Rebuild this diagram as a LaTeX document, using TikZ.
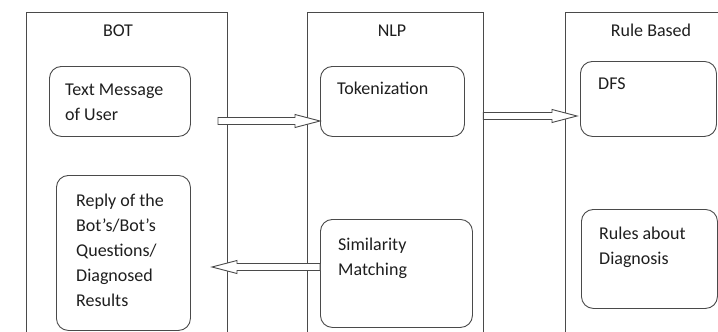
\documentclass[tikz,border=0pt]{standalone}
\usepackage{fontspec}
\setmainfont{Carlito}
\usetikzlibrary{calc}
\definecolor{edge}{HTML}{4A4A4A}
\definecolor{ink}{HTML}{1E1E1E}
\tikzset{
  lane/.style={draw=none, inner sep=0, anchor=north west},
  frame/.style={draw=edge, line width=0.9pt},
  lanetitle/.style={text=ink, inner sep=0, anchor=base, font=\fontsize{18}{25}\selectfont},
  card/.style={draw=edge, line width=0.9pt, rounded corners=12pt, anchor=north west, inner sep=0},
  cardtext/.style={text=ink, inner sep=0, anchor=north west, align=left, font=\fontsize{18}{25.2}\selectfont},
  flow/.style={draw=edge, line width=0.9pt, fill=white, line join=miter},
}
% hollow block arrow from #1 to #2 (both on one horizontal line)
\newcommand\flowarrow[2]{%
  \draw[flow] let \p1=(#1), \p2=(#2), \n1={ifthenelse(\x2>\x1,1,-1)} in
    ({\x1},{\y1+3.5pt}) -- ({\x2-\n1*25pt},{\y1+3.5pt}) -- ({\x2-\n1*25pt},{\y1+6.5pt})
    -- ({\x2},{\y1}) -- ({\x2-\n1*25pt},{\y1-6.5pt}) -- ({\x2-\n1*25pt},{\y1-3.5pt})
    -- ({\x1},{\y1-3.5pt}) -- cycle;}
\begin{document}
\begin{tikzpicture}[x=1pt,y=-1pt]
  \useasboundingbox (0,0) rectangle (718,332);

  % swim lanes (open at the bottom)
  \node[lane, minimum width=201pt, minimum height=320pt] (bot) at (26,12) {};
  \node[lane, minimum width=176pt, minimum height=320pt] (nlp) at (307,12) {};
  \node[lane, minimum width=153pt, minimum height=320pt] (rule) at (565,12) {};
  \draw[frame] (bot.south west) -- (bot.north west) -- (bot.north east) -- (bot.south east);
  \draw[frame] (nlp.south west) -- (nlp.north west) -- (nlp.north east) -- (nlp.south east);
  \draw[frame] (rule.south west) -- (rule.north west) -- (rule.north east);

  \node[lanetitle] (bottitle) at (118,36.5) {BOT};
  \node[lanetitle] (nlptitle) at (392,36.5) {NLP};
  \node[lanetitle] (ruletitle) at (651,36.5) {Rule Based};

  % process boxes
  \node[card, minimum width=141pt, minimum height=70pt] (msg) at (49,66) {};
  \node[card, minimum width=144pt, minimum height=70pt] (tok) at (320,66) {};
  \node[card, minimum width=136pt, minimum height=75pt] (dfs) at (580,61) {};
  \node[card, minimum width=134pt, minimum height=155pt] (reply) at (56,175) {};
  \node[card, minimum width=152pt, minimum height=108pt] (sim) at (320,219) {};
  \node[card, minimum width=136pt, minimum height=99pt] (rules) at (581,209) {};

  \node[cardtext] (msgtext) at (65,77.5) {\strut Text Message\\of User};
  \node[cardtext] (toktext) at (337,77) {\strut Tokenization};
  \node[cardtext] (dfstext) at (598,71.8) {\strut DFS};
  \node[cardtext] (replytext) at (76,188.2) {\strut Reply of the\\Bot’s/Bot’s\\Questions/\\Diagnosed\\Results};
  \node[cardtext] (simtext) at (338,232.5) {\strut Similarity\\Matching};
  \node[cardtext] (rulestext) at (599,221.5) {\strut Rules about\\Diagnosis};

  % flow arrows
  \coordinate (m1s) at (218,121);
  \coordinate (m2y) at (0,116);
  \coordinate (m3e) at (212,267);
  \coordinate (m2e) at ($(dfs.west |- m2y)+(-3,0)$);
  \flowarrow{m1s}{tok.west |- m1s}
  \flowarrow{nlp.north east |- m2y}{m2e}
  \flowarrow{sim.west |- m3e}{m3e}
\end{tikzpicture}
\end{document}
